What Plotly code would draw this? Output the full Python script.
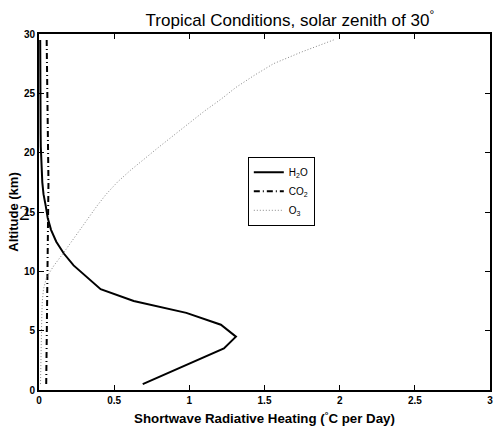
import plotly.graph_objects as go

altitude = [0.5, 1.5, 2.5, 3.5, 4.5, 5.5, 6.5, 7.5, 8.5, 9.5, 10.5, 11.5, 12.5, 13.5, 14.5,
            15.5, 16.5, 17.5, 18.5, 19.5, 20.5, 21.5, 22.5, 23.5, 24.5, 25.5, 26.5, 27.5, 28.5, 29.5]
h2o = [0.69, 0.87, 1.05, 1.23, 1.31, 1.21, 0.98, 0.63, 0.41, 0.32, 0.23, 0.165, 0.115, 0.08, 0.058,
       0.045, 0.03, 0.022, 0.017, 0.014, 0.012, 0.011, 0.01, 0.01, 0.009, 0.009, 0.008, 0.008, 0.008, 0.008]
co2 = [0.048, 0.049, 0.05, 0.051, 0.052, 0.053, 0.054, 0.055, 0.056, 0.057, 0.058, 0.06, 0.062, 0.064, 0.065,
       0.065, 0.064, 0.063, 0.062, 0.061, 0.06, 0.059, 0.058, 0.057, 0.056, 0.055, 0.054, 0.053, 0.052, 0.051]
o3 = [0.01, 0.011, 0.012, 0.013, 0.015, 0.017, 0.019, 0.022, 0.03, 0.05, 0.10, 0.16, 0.215, 0.27, 0.325,
      0.385, 0.447, 0.52, 0.607, 0.70, 0.80, 0.90, 1.0, 1.10, 1.21, 1.31, 1.43, 1.56, 1.75, 1.96]

x_ticks = [0, 0.5, 1, 1.5, 2, 2.5, 3]
y_ticks = [0, 5, 10, 15, 20, 25, 30]

fig = go.Figure()
fig.add_trace(go.Scatter(x=h2o, y=altitude, mode="lines", name="H<sub>2</sub>O",
                         line=dict(color="black", width=2, dash="solid")))
fig.add_trace(go.Scatter(x=co2, y=altitude, mode="lines", name="CO<sub>2</sub>",
                         line=dict(color="black", width=2, dash="6px,3px,1px,3px")))
fig.add_trace(go.Scatter(x=o3, y=altitude, mode="lines", name="O<sub>3</sub>",
                         line=dict(color="#888888", width=1, dash="1px,2px")))

font_main = "Liberation Sans, Arial, sans-serif"

fig.update_layout(
    width=493, height=428,
    margin=dict(l=39, r=3, t=34, b=38, autoexpand=False),
    paper_bgcolor="white", plot_bgcolor="white",
    font=dict(family=font_main, color="black"),
    showlegend=True,
    legend=dict(x=0.463, y=0.655, xanchor="left", yanchor="top",
                bordercolor="black", borderwidth=1, bgcolor="white",
                font=dict(size=10, family=font_main, color="black"),
                itemwidth=30, tracegroupgap=0),
    title=dict(text="Tropical Conditions, solar zenith of 30<sup>°</sup>",
               x=0.588, xanchor="center", y=0.952, yanchor="middle",
               font=dict(size=17, family=font_main, color="black")),
    xaxis=dict(range=[0, 3], tickvals=x_ticks, ticktext=[f"{v:g}" for v in x_ticks],
               ticks="inside", ticklen=5, tickcolor="black", mirror="ticks", automargin=False,
               ticklabeloverflow="allow",
               showline=True, linecolor="black", linewidth=2, showgrid=False, zeroline=False,
               tickfont=dict(size=10, family=font_main, color="black", weight="bold"),
               title=dict(text="Shortwave Radiative Heating (<sup>°</sup>C per Day)",
                          font=dict(size=13.3, family=font_main, weight="bold"), standoff=9)),
    yaxis=dict(range=[0, 30], tickvals=y_ticks, ticktext=[str(v) for v in y_ticks],
               ticks="inside", ticklen=5, tickcolor="black", mirror="ticks", automargin=False,
               ticklabeloverflow="allow",
               showline=True, linecolor="black", linewidth=2, showgrid=False, zeroline=False,
               tickfont=dict(size=10, family=font_main, color="black", weight="bold"),
               title=dict(text="Altitude (km)",
                          font=dict(size=13, family=font_main, weight="bold"), standoff=2)),
)

fig.add_annotation(text="2", xref="paper", yref="paper", x=-0.032, y=0.5,
                   showarrow=False, xanchor="center", yanchor="middle",
                   font=dict(size=22, family="Liberation Serif, Times New Roman, serif", color="black"))

fig.write_html("out.html", config={"displayModeBar": False},
               post_script="document.body.style.margin='0';document.body.style.overflow='hidden';")
